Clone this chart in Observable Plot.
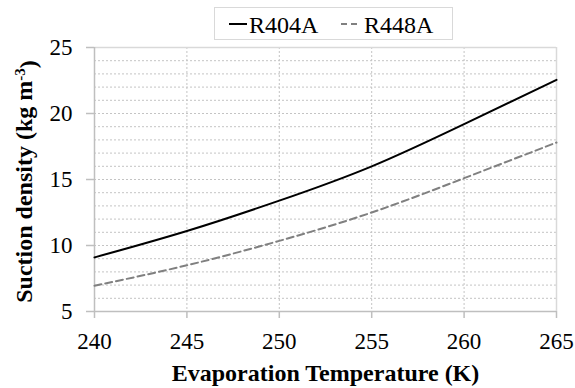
<!DOCTYPE html>
<html><head><meta charset="utf-8">
<script src="https://cdn.jsdelivr.net/npm/d3@7"></script>
<script src="https://cdn.jsdelivr.net/npm/@observablehq/plot@0.6"></script>
</head><body style="margin:0;background:#fff">
<div id="wrap" style="position:relative;width:575px;height:388px"><div id="legend" style="position:absolute;left:214px;top:7px;width:239px;height:33px;box-sizing:border-box;border:1px solid #d9d9d9;background:#fff"></div></div>
<script>
const temperatures = [240, 245, 250, 255, 260, 265];
const r404a = [9.1, 11.1, 13.4, 16.0, 19.2, 22.55];
const r448a = [6.95, 8.5, 10.35, 12.5, 15.1, 17.8];
const seriesNames = ["R404A", "R448A"];
const xTicks = [240, 245, 250, 255, 260, 265];
const yTicks = [5, 10, 15, 20, 25];
const yMinorGrid = [6,7,8,9,10,11,12,13,14,15,16,17,18,19,20,21,22,23,24];
const xGrid = [245, 250, 255, 260];
const xTitle = "Evaporation Temperature (K)";
const yTitle = "Suction density (kg m-3)";

const FONT = "Liberation Serif";
const rows404 = temperatures.map(function(t, i) { return {T: t, v: r404a[i], s: seriesNames[0]}; });
const rows448 = temperatures.map(function(t, i) { return {T: t, v: r448a[i], s: seriesNames[1]}; });
function fmt(d) { return String(d); }

const chart = Plot.plot({
  width: 575, height: 388,
  marginLeft: 94, marginRight: 19, marginTop: 47, marginBottom: 77,
  style: "font-family: 'Liberation Serif'; font-size: 23px; color: black; background: white;",
  x: {domain: [240, 265]},
  y: {domain: [5, 25]},
  marks: [
    Plot.gridY(yMinorGrid, {stroke: "#c4c4c4", strokeOpacity: 1, strokeDasharray: "2,2"}),
    Plot.gridX(xGrid, {stroke: "#c4c4c4", strokeOpacity: 1, strokeDasharray: "2,2"}),
    Plot.ruleY([25], {stroke: "#d9d9d9", strokeWidth: 1.5}),
    Plot.ruleX([265], {stroke: "#d9d9d9", strokeWidth: 1.5}),
    Plot.ruleX([240], {stroke: "#bfbfbf", strokeWidth: 1.5}),
    Plot.ruleY([5], {stroke: "#bfbfbf", strokeWidth: 1.5}),
    Plot.axisX(xTicks, {tickSize: 7, tickPadding: 14, stroke: "#bfbfbf", strokeWidth: 1.5, fill: "black", fontSize: 23, fontFamily: FONT, label: null, tickFormat: fmt}),
    Plot.axisY(yTicks, {tickSize: 8, tickPadding: 14, stroke: "#bfbfbf", strokeWidth: 1.5, fill: "black", fontSize: 23, fontFamily: FONT, label: null, tickFormat: fmt}),
    Plot.line(rows448, {x: "T", y: "v", stroke: "#808080", strokeWidth: 2, strokeDasharray: "7,4", curve: "natural"}),
    Plot.line(rows404, {x: "T", y: "v", stroke: "black", strokeWidth: 2, curve: "natural"}),
    Plot.text([xTitle], {frameAnchor: "bottom", dy: 62, fontWeight: "bold", fontSize: 24, fontFamily: FONT, lineAnchor: "middle", textAnchor: "middle", fill: "black"}),
    Plot.text([yTitle], {frameAnchor: "left", dx: -70, dy: 2, rotate: -90, fontWeight: "bold", fontSize: 24, fontFamily: FONT, lineAnchor: "middle", textAnchor: "middle", fill: "black"})
  ]
});

d3.select(chart).selectAll("text").each(function() {
  const t = d3.select(this);
  if (t.text() === yTitle) {
    t.text(null);
    t.append("tspan").text("Suction density (kg m");
    t.append("tspan").attr("dy", "-0.45em").attr("font-size", "15").text("-3");
    t.append("tspan").attr("dy", "0.45em").text(")");
  }
});

document.getElementById("wrap").appendChild(chart);

const lg = d3.select("#legend").append("svg").attr("width", 239).attr("height", 33)
  .style("position", "absolute").style("left", "-1px").style("top", "-1px");
lg.append("line").attr("x1", 15).attr("x2", 33).attr("y1", 17).attr("y2", 17)
  .attr("stroke", "black").attr("stroke-width", 2);
lg.append("text").attr("x", 35).attr("y", 25.5).attr("font-family", FONT)
  .attr("font-size", 24).text(seriesNames[0]);
lg.append("line").attr("x1", 127).attr("x2", 147).attr("y1", 17).attr("y2", 17)
  .attr("stroke", "#808080").attr("stroke-width", 2).attr("stroke-dasharray", "6,4");
lg.append("text").attr("x", 150).attr("y", 25.5).attr("font-family", FONT)
  .attr("font-size", 24).text(seriesNames[1]);
</script>
</body></html>
